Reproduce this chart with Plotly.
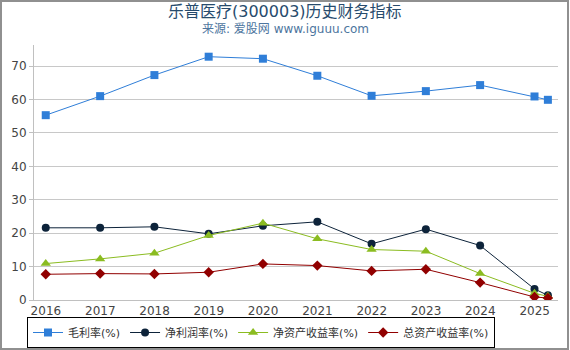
import plotly.graph_objects as go

dates = ["2015-12-31", "2016-12-31", "2017-12-31", "2018-12-31", "2019-12-31",
         "2020-12-31", "2021-12-31", "2022-12-31", "2023-12-31", "2024-12-31", "2025-03-31"]
tick_vals = ["2016-01-01", "2017-01-01", "2018-01-01", "2019-01-01", "2020-01-01",
             "2021-01-01", "2022-01-01", "2023-01-01", "2024-01-01", "2025-01-01"]
tick_text = ["2016", "2017", "2018", "2019", "2020", "2021", "2022", "2023", "2024", "2025"]

gross_margin = [55.3, 61.0, 67.3, 72.8, 72.2, 67.1, 61.1, 62.5, 64.3, 60.9, 59.9]
net_margin = [21.6, 21.6, 21.9, 19.8, 22.2, 23.4, 16.8, 21.2, 16.3, 3.3, 1.4]
roe = [10.9, 12.3, 14.0, 19.3, 23.0, 18.3, 15.1, 14.6, 7.9, 2.0, 1.1]
roa = [7.7, 7.9, 7.8, 8.3, 10.8, 10.3, 8.7, 9.2, 5.2, 0.9, 0.6]

series = [
    ("毛利率(%)", gross_margin, "#2f7ed8", "square", 8),
    ("净利润率(%)", net_margin, "#0d233a", "circle", 8),
    ("净资产收益率(%)", roe, "#8bbc21", "triangle-up", 9),
    ("总资产收益率(%)", roa, "#910000", "diamond", 8),
]

fig = go.Figure()
for name, vals, color, sym, size in series:
    fig.add_trace(go.Scatter(
        x=dates, y=vals, name=name, mode="lines+markers",
        line=dict(color=color, width=1),
        marker=dict(symbol=sym, size=size, color=color),
    ))

W, H = 570, 350
L, R, T, B = 34, 12, 45, 50
pw, ph = W - L - R, H - T - B

def px(x):
    return (x - L) / pw

def py(y):
    return (H - B - y) / ph

font = "DejaVu Sans, Noto Sans CJK SC, sans-serif"

fig.update_layout(
    width=W, height=H,
    margin=dict(l=L, r=R, t=T, b=B, pad=0, autoexpand=False),
    paper_bgcolor="white", plot_bgcolor="white",
    font=dict(family=font, size=12, color="#444"),
    showlegend=True,
    legend=dict(
        orientation="h", x=px(261), xanchor="center", y=py(348), yanchor="bottom",
        bordercolor="#000", borderwidth=1, bgcolor="white",
        font=dict(size=11, color="#333"), itemwidth=30, tracegroupgap=0,
    ),
    xaxis=dict(
        type="date", range=["2015-10-13", "2025-06-07"],
        tickmode="array", tickvals=tick_vals, ticktext=tick_text,
        showgrid=False, showline=True, linecolor="#c0c0c0", linewidth=1,
        ticks="", tickfont=dict(size=12, color="#444"), zeroline=False,
    ),
    yaxis=dict(
        range=[0, 76.3], tickvals=[0, 10, 20, 30, 40, 50, 60, 70],
        showgrid=True, gridcolor="#c8c8c8", gridwidth=1,
        showline=True, linecolor="#c0c0c0", linewidth=1,
        ticks="outside", ticklen=4, tickcolor="#c0c0c0",
        tickfont=dict(size=12, color="#444"), zeroline=False,
    ),
    annotations=[
        dict(text="乐普医疗(300003)历史财务指标", xref="paper", yref="paper",
             x=px(285), y=py(11), xanchor="center", yanchor="middle", showarrow=False,
             font=dict(size=16, color="#274b6d", family=font)),
        dict(text="来源: 爱股网 www.iguuu.com", xref="paper", yref="paper",
             x=px(285), y=py(29), xanchor="center", yanchor="middle", showarrow=False,
             font=dict(size=12, color="#4d759e", family=font)),
    ],
    shapes=[
        dict(type="rect", xref="paper", yref="paper",
             x0=px(1), x1=px(568), y0=py(349), y1=py(1),
             line=dict(color="#909090", width=2), layer="above"),
    ],
)

fig.write_html("out.html")
